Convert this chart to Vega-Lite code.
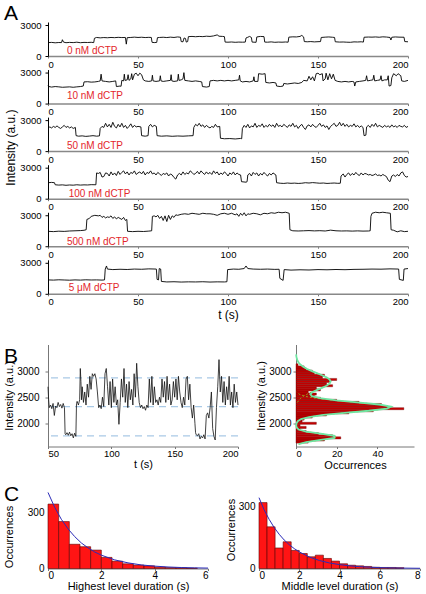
{
"$schema":"https://vega.github.io/schema/vega-lite/v6.json",
"background":"white",
"padding":{"left":3,"top":3,"right":0,"bottom":0},
"config":{"font":"Liberation Sans","view":{"stroke":null},
"axis":{"labelFont":"Liberation Sans","titleFont":"Liberation Sans","titleFontWeight":"normal","labelColor":"black","titleColor":"black","grid":false,"domainColor":"#777","tickColor":"#777","labelFontSize":10,"titleFontSize":11}},
"datasets":{
"a0":[{"t":0,"v":1300},{"t":2,"v":1320},{"t":4,"v":1280},{"t":6,"v":1310},{"t":7.5,"v":1300},{"t":8,"v":1580},{"t":8.6,"v":1350},{"t":10,"v":1290},{"t":12,"v":1320},{"t":14,"v":1300},{"t":16,"v":1340},{"t":18,"v":1290},{"t":20,"v":1320},{"t":22,"v":1310},{"t":24,"v":1330},{"t":25.4,"v":1300},{"t":25.8,"v":1720},{"t":27,"v":1800},{"t":29,"v":1760},{"t":31,"v":1790},{"t":33,"v":1770},{"t":35,"v":1800},{"t":37,"v":1780},{"t":39,"v":1810},{"t":41,"v":1790},{"t":43,"v":1800},{"t":43.5,"v":1150},{"t":44,"v":1780},{"t":46,"v":1800},{"t":48,"v":1830},{"t":50,"v":1800},{"t":52,"v":1820},{"t":54,"v":1790},{"t":56,"v":1810},{"t":57.4,"v":1800},{"t":57.8,"v":1330},{"t":59,"v":1300},{"t":60.4,"v":1320},{"t":60.8,"v":1780},{"t":62,"v":1800},{"t":64,"v":1820},{"t":66,"v":1790},{"t":68,"v":1830},{"t":70,"v":1800},{"t":72,"v":1850},{"t":73.6,"v":1820},{"t":74,"v":1400},{"t":75,"v":1380},{"t":75.6,"v":1750},{"t":76.4,"v":1700},{"t":76.8,"v":1350},{"t":77.6,"v":1400},{"t":78,"v":1880},{"t":80,"v":1900},{"t":82,"v":1870},{"t":84,"v":1900},{"t":86,"v":1880},{"t":88,"v":1920},{"t":90,"v":1900},{"t":92,"v":1950},{"t":94,"v":2050},{"t":95,"v":1920},{"t":97,"v":1900},{"t":98,"v":1880},{"t":98.4,"v":1350},{"t":100,"v":1340},{"t":102,"v":1360},{"t":104,"v":1330},{"t":106,"v":1350},{"t":108,"v":1340},{"t":109.6,"v":1350},{"t":110,"v":1750},{"t":111,"v":1820},{"t":112,"v":1900},{"t":113,"v":1800},{"t":113.4,"v":1350},{"t":115.6,"v":1330},{"t":116,"v":1850},{"t":118,"v":1900},{"t":120,"v":1880},{"t":120.4,"v":1350},{"t":122,"v":1340},{"t":124,"v":1370},{"t":126,"v":1330},{"t":128,"v":1350},{"t":130,"v":1340},{"t":132,"v":1360},{"t":133.4,"v":1340},{"t":133.8,"v":1830},{"t":136,"v":1860},{"t":138,"v":1850},{"t":140,"v":1900},{"t":141,"v":2000},{"t":142,"v":1850},{"t":142.4,"v":1400},{"t":144,"v":1380},{"t":146,"v":1400},{"t":148,"v":1370},{"t":150,"v":1390},{"t":151.4,"v":1400},{"t":151.8,"v":1800},{"t":154,"v":1830},{"t":156,"v":1850},{"t":158,"v":1820},{"t":159.2,"v":1800},{"t":159.6,"v":1380},{"t":162,"v":1350},{"t":164,"v":1360},{"t":166,"v":1340},{"t":168,"v":1330},{"t":170,"v":1370},{"t":172,"v":1360},{"t":174,"v":1380},{"t":175.2,"v":1350},{"t":175.6,"v":1820},{"t":178,"v":1840},{"t":180,"v":1830},{"t":182,"v":1850},{"t":184,"v":1820},{"t":186,"v":1860},{"t":188,"v":1840},{"t":190,"v":1800},{"t":190.5,"v":1550},{"t":191,"v":1820},{"t":193,"v":1850},{"t":195,"v":1830},{"t":197.8,"v":1820},{"t":198.2,"v":1400},{"t":200,"v":1380}],
"a10":[{"t":0,"v":1800},{"t":0.5,"v":1650},{"t":2,"v":1600},{"t":4,"v":1650},{"t":6,"v":1620},{"t":8,"v":1580},{"t":10,"v":1600},{"t":12,"v":1620},{"t":14,"v":1580},{"t":16,"v":1620},{"t":18,"v":1650},{"t":19.6,"v":1700},{"t":20,"v":2100},{"t":22,"v":2120},{"t":24,"v":2080},{"t":26,"v":2100},{"t":28,"v":2150},{"t":29,"v":2200},{"t":29.5,"v":2850},{"t":30,"v":2200},{"t":32,"v":2150},{"t":34,"v":2100},{"t":36,"v":2150},{"t":37.6,"v":2200},{"t":38,"v":1650},{"t":40,"v":1700},{"t":40.6,"v":1680},{"t":41,"v":2250},{"t":42,"v":2200},{"t":42.4,"v":2850},{"t":42.8,"v":2250},{"t":44,"v":2300},{"t":44.5,"v":2800},{"t":45,"v":2250},{"t":46,"v":2400},{"t":46.5,"v":2900},{"t":47,"v":2300},{"t":48,"v":2850},{"t":49,"v":2950},{"t":50,"v":2700},{"t":51,"v":2950},{"t":52,"v":2800},{"t":53,"v":2300},{"t":54,"v":2200},{"t":56,"v":2150},{"t":57.6,"v":2200},{"t":58,"v":2750},{"t":58.4,"v":2200},{"t":60,"v":2150},{"t":62,"v":2200},{"t":62.4,"v":2700},{"t":62.8,"v":2200},{"t":64,"v":2150},{"t":66,"v":2200},{"t":68,"v":2250},{"t":68.4,"v":2800},{"t":68.8,"v":2200},{"t":70,"v":2150},{"t":72,"v":2200},{"t":72.4,"v":2850},{"t":72.8,"v":2250},{"t":74,"v":2300},{"t":75,"v":2400},{"t":75.5,"v":3000},{"t":76,"v":2250},{"t":78,"v":2200},{"t":80,"v":2150},{"t":82,"v":2200},{"t":84,"v":2150},{"t":85.4,"v":2100},{"t":85.8,"v":1650},{"t":88,"v":1600},{"t":89.6,"v":1650},{"t":90,"v":2200},{"t":92,"v":2250},{"t":94,"v":2200},{"t":96,"v":2250},{"t":98,"v":2200},{"t":100,"v":2250},{"t":102,"v":2200},{"t":104,"v":2250},{"t":106,"v":2300},{"t":106.4,"v":2750},{"t":106.8,"v":2200},{"t":108,"v":2100},{"t":110,"v":2150},{"t":112,"v":2100},{"t":114,"v":2200},{"t":114.4,"v":2600},{"t":114.8,"v":2150},{"t":116.6,"v":2150},{"t":117,"v":2900},{"t":119,"v":2850},{"t":120.6,"v":2900},{"t":121,"v":2050},{"t":123,"v":2000},{"t":125,"v":2050},{"t":126.6,"v":2000},{"t":127,"v":1700},{"t":129,"v":1650},{"t":130.6,"v":1700},{"t":131,"v":1950},{"t":133,"v":1900},{"t":135,"v":1950},{"t":137,"v":2000},{"t":139,"v":1950},{"t":141,"v":2050},{"t":142,"v":2250},{"t":144,"v":2200},{"t":145,"v":2650},{"t":146,"v":2300},{"t":147,"v":2600},{"t":148,"v":2200},{"t":149,"v":2900},{"t":150,"v":2950},{"t":151,"v":2800},{"t":152.4,"v":2900},{"t":152.8,"v":2200},{"t":154,"v":2400},{"t":154.5,"v":2950},{"t":155.5,"v":2300},{"t":156.5,"v":2900},{"t":157.5,"v":2400},{"t":158.5,"v":2850},{"t":159.5,"v":2250},{"t":161,"v":2150},{"t":163,"v":2100},{"t":165,"v":2150},{"t":167,"v":2100},{"t":169,"v":2150},{"t":170,"v":2100},{"t":170.4,"v":1700},{"t":171,"v":2100},{"t":173,"v":2150},{"t":175,"v":2200},{"t":176.5,"v":2250},{"t":177,"v":2700},{"t":177.5,"v":2200},{"t":179,"v":2250},{"t":180.5,"v":2300},{"t":181,"v":2750},{"t":181.5,"v":2200},{"t":183,"v":2250},{"t":184.5,"v":2300},{"t":185,"v":2700},{"t":185.5,"v":2200},{"t":187,"v":2300},{"t":188.5,"v":2300},{"t":189,"v":2700},{"t":189.5,"v":1700},{"t":190.5,"v":1750},{"t":191,"v":2500},{"t":192,"v":2900},{"t":193.5,"v":2700},{"t":194.5,"v":2900},{"t":196,"v":2700},{"t":196.5,"v":2200},{"t":198,"v":2150},{"t":200,"v":2250}],
"a50":[{"t":0,"v":2200},{"t":1,"v":2350},{"t":2,"v":2250},{"t":3,"v":2400},{"t":4,"v":2300},{"t":5,"v":2450},{"t":6,"v":2300},{"t":7,"v":2200},{"t":8,"v":2350},{"t":9,"v":2500},{"t":10,"v":2300},{"t":11,"v":2400},{"t":12,"v":2250},{"t":13,"v":2350},{"t":14,"v":2200},{"t":15.2,"v":2300},{"t":15.6,"v":1500},{"t":17,"v":1450},{"t":19,"v":1480},{"t":21,"v":1430},{"t":23,"v":1460},{"t":25,"v":1500},{"t":27,"v":1450},{"t":28.6,"v":1480},{"t":29,"v":2200},{"t":30,"v":2400},{"t":31,"v":2300},{"t":32,"v":2700},{"t":33,"v":2350},{"t":34,"v":2600},{"t":35,"v":2300},{"t":36,"v":2800},{"t":37,"v":2400},{"t":38,"v":2250},{"t":39,"v":2600},{"t":40,"v":2350},{"t":41,"v":2700},{"t":42,"v":2300},{"t":43,"v":2500},{"t":44,"v":2200},{"t":45,"v":2400},{"t":46,"v":2650},{"t":47,"v":2300},{"t":48,"v":2500},{"t":49,"v":2350},{"t":50,"v":2400},{"t":51.6,"v":2350},{"t":52,"v":1500},{"t":54,"v":1450},{"t":55.6,"v":1500},{"t":56,"v":2400},{"t":57,"v":2600},{"t":58,"v":2350},{"t":59,"v":2500},{"t":60.2,"v":2400},{"t":60.6,"v":1500},{"t":63,"v":1450},{"t":66,"v":1480},{"t":69,"v":1440},{"t":72,"v":1470},{"t":75,"v":1450},{"t":78,"v":1480},{"t":80.6,"v":1500},{"t":81,"v":2300},{"t":82,"v":2600},{"t":83,"v":2450},{"t":84,"v":2700},{"t":85,"v":2400},{"t":86,"v":2550},{"t":87,"v":2300},{"t":88,"v":2500},{"t":89,"v":2350},{"t":90,"v":2250},{"t":91,"v":2400},{"t":92,"v":2300},{"t":93,"v":2600},{"t":94,"v":2350},{"t":95.4,"v":2400},{"t":95.8,"v":1250},{"t":98,"v":1200},{"t":101,"v":1220},{"t":104,"v":1180},{"t":107,"v":1230},{"t":107.6,"v":1200},{"t":108,"v":2200},{"t":109,"v":2500},{"t":110,"v":2300},{"t":111,"v":2600},{"t":112,"v":2250},{"t":113,"v":2450},{"t":114,"v":2350},{"t":115,"v":2700},{"t":116,"v":2300},{"t":117,"v":2500},{"t":118,"v":2400},{"t":119,"v":2650},{"t":120,"v":2300},{"t":121,"v":2500},{"t":122,"v":2350},{"t":123,"v":2600},{"t":124,"v":2400},{"t":125,"v":2550},{"t":126,"v":2300},{"t":127,"v":2700},{"t":128,"v":2400},{"t":129,"v":2500},{"t":130,"v":2350},{"t":131,"v":2600},{"t":132,"v":2450},{"t":133,"v":2300},{"t":134,"v":2550},{"t":135,"v":2400},{"t":136,"v":2700},{"t":137,"v":2350},{"t":138,"v":2500},{"t":139,"v":2200},{"t":140,"v":2450},{"t":141,"v":2600},{"t":142,"v":2300},{"t":143,"v":2100},{"t":144,"v":2450},{"t":145,"v":2550},{"t":146,"v":2350},{"t":147,"v":2600},{"t":148,"v":2400},{"t":149,"v":2300},{"t":150,"v":2500},{"t":151,"v":2700},{"t":152,"v":2400},{"t":153,"v":2550},{"t":154,"v":2300},{"t":155,"v":2450},{"t":156,"v":2100},{"t":157,"v":2400},{"t":158,"v":2550},{"t":159,"v":2700},{"t":160,"v":2400},{"t":161,"v":2500},{"t":162,"v":2800},{"t":163,"v":2450},{"t":164,"v":2700},{"t":165,"v":2400},{"t":166,"v":2600},{"t":167,"v":2350},{"t":168,"v":2500},{"t":169,"v":2400},{"t":170,"v":2650},{"t":171,"v":2350},{"t":172,"v":2500},{"t":173,"v":2300},{"t":174,"v":2450},{"t":175,"v":2300},{"t":175.6,"v":1500},{"t":176.6,"v":1550},{"t":177,"v":2350},{"t":178,"v":2500},{"t":179,"v":2300},{"t":180,"v":2600},{"t":181,"v":2400},{"t":182,"v":2700},{"t":183,"v":2350},{"t":184,"v":2500},{"t":185,"v":2400},{"t":186,"v":2300},{"t":187,"v":2500},{"t":188,"v":2350},{"t":189,"v":2450},{"t":190,"v":2300},{"t":191,"v":2550},{"t":192,"v":2350},{"t":193,"v":2450},{"t":194,"v":2300},{"t":195,"v":2500},{"t":196,"v":2400},{"t":197,"v":2350},{"t":198,"v":2500},{"t":199,"v":2300},{"t":200,"v":2400}],
"a100":[{"t":0,"v":1550},{"t":2,"v":1580},{"t":3.6,"v":1550},{"t":4,"v":1350},{"t":6,"v":1320},{"t":8,"v":1340},{"t":10,"v":1300},{"t":12,"v":1330},{"t":14,"v":1310},{"t":16,"v":1350},{"t":18,"v":1320},{"t":20,"v":1340},{"t":22,"v":1330},{"t":24,"v":1360},{"t":26.6,"v":1350},{"t":27,"v":2500},{"t":28,"v":2450},{"t":29,"v":2550},{"t":30,"v":2100},{"t":31,"v":2150},{"t":32,"v":2500},{"t":33,"v":2450},{"t":34,"v":2200},{"t":35,"v":2600},{"t":36,"v":2300},{"t":37,"v":2500},{"t":38,"v":2250},{"t":39,"v":2650},{"t":40,"v":2350},{"t":41,"v":2550},{"t":42,"v":2700},{"t":43,"v":2400},{"t":44,"v":2600},{"t":45,"v":2300},{"t":46,"v":2550},{"t":47,"v":2450},{"t":48,"v":2700},{"t":49,"v":2350},{"t":50,"v":2500},{"t":51,"v":2600},{"t":52,"v":2400},{"t":53,"v":2650},{"t":54,"v":2300},{"t":55,"v":2550},{"t":56,"v":2450},{"t":57,"v":2700},{"t":58,"v":2400},{"t":59,"v":2500},{"t":60,"v":2300},{"t":61,"v":2550},{"t":62,"v":2400},{"t":63,"v":2250},{"t":64,"v":2450},{"t":65,"v":2350},{"t":66,"v":2500},{"t":67,"v":2200},{"t":68,"v":2400},{"t":69,"v":2300},{"t":70,"v":2050},{"t":71,"v":1900},{"t":72,"v":2300},{"t":73,"v":2450},{"t":74,"v":2300},{"t":75,"v":2600},{"t":76,"v":2350},{"t":77,"v":2500},{"t":78,"v":2400},{"t":79,"v":2700},{"t":80,"v":2550},{"t":81,"v":2350},{"t":82,"v":2450},{"t":83,"v":2650},{"t":84,"v":2400},{"t":85,"v":2700},{"t":86,"v":2500},{"t":87,"v":2350},{"t":88,"v":2600},{"t":89,"v":2400},{"t":90,"v":2550},{"t":91,"v":2350},{"t":92,"v":2700},{"t":93,"v":2450},{"t":94,"v":2600},{"t":95,"v":2300},{"t":96,"v":2500},{"t":97,"v":2350},{"t":98,"v":2600},{"t":99,"v":2450},{"t":100,"v":2200},{"t":101,"v":2500},{"t":102,"v":2350},{"t":103,"v":2600},{"t":104,"v":2300},{"t":105,"v":2500},{"t":106,"v":2350},{"t":107,"v":2300},{"t":107.5,"v":1650},{"t":110,"v":1600},{"t":110.6,"v":1650},{"t":111,"v":2300},{"t":112,"v":2450},{"t":113,"v":2200},{"t":114,"v":2550},{"t":115,"v":2350},{"t":116,"v":2500},{"t":117,"v":2200},{"t":118,"v":2450},{"t":119,"v":2300},{"t":120,"v":2550},{"t":121,"v":2350},{"t":122,"v":2200},{"t":123,"v":2450},{"t":124,"v":2300},{"t":125,"v":2500},{"t":126.6,"v":2300},{"t":127,"v":1550},{"t":129,"v":1500},{"t":131,"v":1480},{"t":133,"v":1520},{"t":135,"v":1490},{"t":137,"v":1510},{"t":139,"v":1480},{"t":141,"v":1500},{"t":143,"v":1550},{"t":145,"v":1520},{"t":147,"v":1560},{"t":149,"v":1530},{"t":151,"v":1500},{"t":153,"v":1520},{"t":155,"v":1480},{"t":157,"v":1500},{"t":159,"v":1520},{"t":161,"v":1490},{"t":162.4,"v":1500},{"t":162.8,"v":2200},{"t":164,"v":2400},{"t":165,"v":2100},{"t":166,"v":2350},{"t":167,"v":2500},{"t":168,"v":2250},{"t":169,"v":2450},{"t":170,"v":2300},{"t":171,"v":2550},{"t":172,"v":2350},{"t":173,"v":2250},{"t":174,"v":2500},{"t":175,"v":2300},{"t":176,"v":2450},{"t":177,"v":2400},{"t":178,"v":2300},{"t":179,"v":2350},{"t":180,"v":2250},{"t":181,"v":2300},{"t":182,"v":2400},{"t":183,"v":2250},{"t":184,"v":2300},{"t":185,"v":2200},{"t":186,"v":2350},{"t":187,"v":2250},{"t":188,"v":2150},{"t":189,"v":1800},{"t":190,"v":1650},{"t":191,"v":2200},{"t":192,"v":2300},{"t":193,"v":2150},{"t":194,"v":2350},{"t":195,"v":2200},{"t":196,"v":2500},{"t":197,"v":2600},{"t":198,"v":2250},{"t":199,"v":2100},{"t":200,"v":2150}],
"a500":[{"t":0,"v":1450},{"t":3,"v":1420},{"t":6,"v":1460},{"t":9,"v":1440},{"t":12,"v":1480},{"t":15,"v":1500},{"t":18,"v":1520},{"t":20,"v":1550},{"t":21.2,"v":1600},{"t":21.6,"v":2600},{"t":23,"v":2700},{"t":24,"v":2900},{"t":26,"v":3000},{"t":28,"v":2950},{"t":29,"v":3000},{"t":30,"v":2800},{"t":31,"v":2900},{"t":32,"v":2750},{"t":33,"v":2850},{"t":34,"v":2800},{"t":35,"v":2950},{"t":36,"v":2700},{"t":37,"v":2850},{"t":38,"v":2650},{"t":39,"v":2800},{"t":40,"v":2700},{"t":41,"v":2600},{"t":42,"v":2800},{"t":43,"v":2500},{"t":43.8,"v":2600},{"t":44.2,"v":1450},{"t":47,"v":1420},{"t":50,"v":1450},{"t":53,"v":1430},{"t":56,"v":1470},{"t":57.6,"v":1500},{"t":58,"v":2900},{"t":59,"v":2950},{"t":60,"v":2850},{"t":61,"v":3000},{"t":62,"v":2700},{"t":63,"v":2900},{"t":64,"v":2500},{"t":65,"v":2950},{"t":66,"v":2400},{"t":67,"v":3000},{"t":68,"v":2600},{"t":69,"v":2950},{"t":70,"v":2800},{"t":71,"v":3050},{"t":72,"v":3000},{"t":74,"v":3100},{"t":76,"v":3150},{"t":78,"v":3100},{"t":80,"v":3200},{"t":82,"v":3150},{"t":84,"v":3100},{"t":86,"v":3200},{"t":88,"v":3150},{"t":90,"v":3150},{"t":92,"v":3100},{"t":94,"v":3000},{"t":96,"v":3150},{"t":98,"v":3200},{"t":100,"v":3100},{"t":102,"v":3200},{"t":104,"v":3050},{"t":105,"v":3150},{"t":106,"v":2900},{"t":107,"v":3200},{"t":108,"v":3000},{"t":109,"v":3250},{"t":110,"v":2950},{"t":111,"v":3150},{"t":112,"v":3100},{"t":114,"v":3200},{"t":116,"v":3150},{"t":118,"v":3050},{"t":120,"v":3200},{"t":122,"v":3150},{"t":124,"v":3250},{"t":126,"v":3200},{"t":128,"v":3300},{"t":130,"v":3250},{"t":132,"v":3300},{"t":134,"v":3200},{"t":134.4,"v":1600},{"t":136,"v":1500},{"t":139,"v":1480},{"t":142,"v":1500},{"t":145,"v":1520},{"t":148,"v":1490},{"t":151,"v":1510},{"t":154,"v":1480},{"t":157,"v":1560},{"t":160,"v":1500},{"t":163,"v":1480},{"t":166,"v":1490},{"t":169,"v":1470},{"t":172,"v":1490},{"t":175,"v":1470},{"t":178,"v":1480},{"t":179,"v":1500},{"t":179.4,"v":2900},{"t":180,"v":3200},{"t":182,"v":3300},{"t":184,"v":3250},{"t":186,"v":3300},{"t":188,"v":3250},{"t":190.2,"v":3200},{"t":190.6,"v":1600},{"t":192,"v":1550},{"t":194,"v":1400},{"t":196,"v":1500},{"t":198,"v":1420},{"t":200,"v":1450}],
"a5u":[{"t":0,"v":1350},{"t":3,"v":1330},{"t":6,"v":1360},{"t":9,"v":1340},{"t":12,"v":1320},{"t":15,"v":1350},{"t":18,"v":1330},{"t":21,"v":1360},{"t":24,"v":1340},{"t":27,"v":1350},{"t":30,"v":1330},{"t":31.4,"v":1350},{"t":31.8,"v":2400},{"t":32.5,"v":2700},{"t":33,"v":2400},{"t":36,"v":2350},{"t":40,"v":2380},{"t":44,"v":2360},{"t":48,"v":2400},{"t":52,"v":2380},{"t":56,"v":2420},{"t":60.2,"v":2400},{"t":60.6,"v":1400},{"t":61.4,"v":1350},{"t":61.8,"v":2450},{"t":62.6,"v":2400},{"t":63,"v":1200},{"t":66,"v":1150},{"t":70,"v":1170},{"t":74,"v":1140},{"t":78,"v":1160},{"t":82,"v":1150},{"t":86,"v":1170},{"t":90,"v":1140},{"t":94,"v":1160},{"t":98,"v":1150},{"t":99.4,"v":1170},{"t":99.8,"v":2350},{"t":103,"v":2400},{"t":106,"v":2380},{"t":109,"v":2450},{"t":110,"v":2700},{"t":111,"v":2450},{"t":114,"v":2400},{"t":118,"v":2380},{"t":122,"v":2400},{"t":126,"v":2370},{"t":128.4,"v":2380},{"t":128.8,"v":1500},{"t":130.6,"v":1300},{"t":131.2,"v":2350},{"t":135,"v":2300},{"t":140,"v":2330},{"t":145,"v":2310},{"t":150,"v":2350},{"t":155,"v":2330},{"t":160,"v":2360},{"t":165,"v":2340},{"t":170,"v":2370},{"t":175,"v":2380},{"t":180,"v":2400},{"t":185,"v":2390},{"t":190,"v":2420},{"t":194.8,"v":2400},{"t":195.2,"v":1400},{"t":197.4,"v":1300},{"t":197.8,"v":2400},{"t":200,"v":2450}],
"b":[{"t":50,"v":2700},{"t":50.5,"v":2450},{"t":51,"v":2300},{"t":52,"v":2350},{"t":53,"v":2280},{"t":54,"v":2380},{"t":55,"v":2150},{"t":56,"v":2330},{"t":57,"v":2300},{"t":58,"v":2400},{"t":59,"v":2320},{"t":60,"v":2360},{"t":61,"v":2290},{"t":62,"v":2380},{"t":63,"v":2300},{"t":63.5,"v":1800},{"t":64,"v":1780},{"t":65,"v":1820},{"t":66,"v":1770},{"t":67,"v":1830},{"t":68,"v":1760},{"t":69,"v":1800},{"t":70,"v":1720},{"t":71,"v":1810},{"t":72,"v":1750},{"t":72.5,"v":2380},{"t":73,"v":2420},{"t":74,"v":2350},{"t":75,"v":2450},{"t":75.5,"v":3050},{"t":76,"v":2800},{"t":76.5,"v":2450},{"t":77,"v":2700},{"t":78,"v":2400},{"t":79,"v":2600},{"t":80,"v":2350},{"t":81,"v":2750},{"t":82,"v":2500},{"t":83,"v":2900},{"t":84,"v":2650},{"t":85,"v":2950},{"t":86,"v":2900},{"t":87,"v":2950},{"t":88,"v":2850},{"t":89,"v":2600},{"t":90,"v":2300},{"t":91,"v":2350},{"t":92,"v":2280},{"t":93,"v":2500},{"t":94,"v":2320},{"t":95,"v":2950},{"t":96,"v":3050},{"t":97,"v":2700},{"t":98,"v":2350},{"t":99,"v":2800},{"t":100,"v":2300},{"t":101,"v":2850},{"t":102,"v":2400},{"t":103,"v":2700},{"t":104,"v":2350},{"t":105,"v":2450},{"t":106,"v":1980},{"t":107,"v":2400},{"t":108,"v":2850},{"t":109,"v":2500},{"t":110,"v":3050},{"t":111,"v":2400},{"t":112,"v":2750},{"t":113,"v":2300},{"t":114,"v":2800},{"t":115,"v":2450},{"t":116,"v":2650},{"t":117,"v":2350},{"t":118,"v":2950},{"t":119,"v":2500},{"t":120,"v":3150},{"t":121,"v":2700},{"t":122,"v":2400},{"t":123,"v":2300},{"t":124,"v":2350},{"t":125,"v":2280},{"t":126,"v":2320},{"t":127,"v":2250},{"t":128,"v":2350},{"t":129,"v":2300},{"t":130,"v":2850},{"t":131,"v":2400},{"t":132,"v":2900},{"t":133,"v":2350},{"t":134,"v":2700},{"t":135,"v":2400},{"t":136,"v":2450},{"t":137,"v":2350},{"t":138,"v":2500},{"t":139,"v":2400},{"t":140,"v":2850},{"t":141,"v":2500},{"t":142,"v":2800},{"t":143,"v":2400},{"t":144,"v":2900},{"t":145,"v":2450},{"t":146,"v":2750},{"t":147,"v":2350},{"t":148,"v":2450},{"t":149,"v":2800},{"t":150,"v":2500},{"t":151,"v":2850},{"t":152,"v":2450},{"t":153,"v":2900},{"t":154,"v":2600},{"t":155,"v":2400},{"t":156,"v":2300},{"t":157,"v":2500},{"t":158,"v":2350},{"t":159,"v":2850},{"t":160,"v":2900},{"t":161,"v":2450},{"t":162,"v":2750},{"t":163,"v":2300},{"t":164,"v":2100},{"t":165,"v":2350},{"t":166,"v":2000},{"t":166.5,"v":1820},{"t":167,"v":1780},{"t":168,"v":1760},{"t":169,"v":1800},{"t":170,"v":1700},{"t":171,"v":1750},{"t":172,"v":1720},{"t":173,"v":1780},{"t":174,"v":1700},{"t":175,"v":2150},{"t":176,"v":2200},{"t":177,"v":2100},{"t":178,"v":2300},{"t":179,"v":2600},{"t":180,"v":1900},{"t":181,"v":1750},{"t":182,"v":1680},{"t":183,"v":2300},{"t":184,"v":2700},{"t":185,"v":3220},{"t":186,"v":2600},{"t":187,"v":2900},{"t":188,"v":2400},{"t":189,"v":2800},{"t":190,"v":2350},{"t":191,"v":2700},{"t":192,"v":2450},{"t":193,"v":2900},{"t":194,"v":2350},{"t":195,"v":2600},{"t":196,"v":2300},{"t":197,"v":2750},{"t":198,"v":2400},{"t":199,"v":2600},{"t":200,"v":2350}],
"levels":[{"level":2870},{"level":2320},{"level":1760}],
"hist":[{"lo":1620,"hi":1660,"n":6},{"lo":1660,"hi":1700,"n":14},{"lo":1700,"hi":1740,"n":22},{"lo":1740,"hi":1780,"n":18},{"lo":1780,"hi":1820,"n":11},{"lo":1820,"hi":1860,"n":5},{"lo":1860,"hi":1900,"n":2},{"lo":1900,"hi":1940,"n":5},{"lo":1940,"hi":1980,"n":2},{"lo":1980,"hi":2020,"n":10},{"lo":2020,"hi":2060,"n":3},{"lo":2060,"hi":2100,"n":4},{"lo":2100,"hi":2140,"n":8},{"lo":2140,"hi":2180,"n":15},{"lo":2180,"hi":2220,"n":26},{"lo":2220,"hi":2260,"n":38},{"lo":2260,"hi":2300,"n":53},{"lo":2300,"hi":2340,"n":45},{"lo":2340,"hi":2380,"n":42},{"lo":2380,"hi":2420,"n":31},{"lo":2420,"hi":2460,"n":20},{"lo":2460,"hi":2500,"n":12},{"lo":2500,"hi":2540,"n":9},{"lo":2540,"hi":2580,"n":10},{"lo":2580,"hi":2620,"n":6},{"lo":2620,"hi":2660,"n":12},{"lo":2660,"hi":2700,"n":10},{"lo":2700,"hi":2740,"n":18},{"lo":2740,"hi":2780,"n":15},{"lo":2780,"hi":2820,"n":17},{"lo":2820,"hi":2860,"n":20},{"lo":2860,"hi":2900,"n":13},{"lo":2900,"hi":2940,"n":14},{"lo":2940,"hi":2980,"n":9},{"lo":2980,"hi":3020,"n":8},{"lo":3020,"hi":3060,"n":5},{"lo":3060,"hi":3100,"n":4},{"lo":3100,"hi":3140,"n":1}],
"fit":[{"v":1600,"n":1.3},{"v":1640,"n":5},{"v":1680,"n":12.1},{"v":1720,"n":18.9},{"v":1760,"n":18.9},{"v":1800,"n":12.1},{"v":1840,"n":5},{"v":1880,"n":1.3},{"v":1920,"n":0.3},{"v":1960,"n":0.1},{"v":2000,"n":0.25},{"v":2040,"n":0.85},{"v":2080,"n":2.5},{"v":2120,"n":6.4},{"v":2160,"n":13.5},{"v":2200,"n":24},{"v":2240,"n":35.8},{"v":2280,"n":44.7},{"v":2320,"n":46.7},{"v":2360,"n":40.9},{"v":2400,"n":30.1},{"v":2440,"n":19.8},{"v":2480,"n":11.8},{"v":2520,"n":7.8},{"v":2560,"n":7},{"v":2600,"n":8.2},{"v":2640,"n":10.4},{"v":2680,"n":12.8},{"v":2720,"n":15},{"v":2760,"n":16.5},{"v":2800,"n":17},{"v":2840,"n":16.5},{"v":2880,"n":15},{"v":2920,"n":12.8},{"v":2960,"n":10.3},{"v":3000,"n":7.8},{"v":3040,"n":5.5},{"v":3080,"n":3.7},{"v":3120,"n":2.3},{"v":3160,"n":1.35},{"v":3200,"n":0.75},{"v":3240,"n":0.4},{"v":3280,"n":0.2},{"v":3320,"n":0.05}],
"comp":[{"g":"l","v":1600,"n":1.3},{"g":"l","v":1640,"n":5},{"g":"l","v":1680,"n":12.1},{"g":"l","v":1720,"n":18.9},{"g":"l","v":1740,"n":20},{"g":"l","v":1760,"n":18.9},{"g":"l","v":1800,"n":12.1},{"g":"l","v":1840,"n":5},{"g":"l","v":1880,"n":1.3},{"g":"l","v":1920,"n":0.2},{"g":"m","v":2040,"n":0.8},{"g":"m","v":2080,"n":2.5},{"g":"m","v":2120,"n":6.4},{"g":"m","v":2160,"n":13.5},{"g":"m","v":2200,"n":24},{"g":"m","v":2240,"n":35.8},{"g":"m","v":2280,"n":44.7},{"g":"m","v":2310,"n":47},{"g":"m","v":2360,"n":40.9},{"g":"m","v":2400,"n":30},{"g":"m","v":2440,"n":18.4},{"g":"m","v":2480,"n":9.5},{"g":"m","v":2520,"n":4.1},{"g":"m","v":2560,"n":1.5},{"g":"m","v":2600,"n":0.4},{"g":"u","v":2400,"n":0.7},{"g":"u","v":2440,"n":1.35},{"g":"u","v":2480,"n":2.3},{"g":"u","v":2520,"n":3.7},{"g":"u","v":2560,"n":5.5},{"g":"u","v":2600,"n":7.8},{"g":"u","v":2640,"n":10.3},{"g":"u","v":2680,"n":12.8},{"g":"u","v":2720,"n":15},{"g":"u","v":2760,"n":16.5},{"g":"u","v":2800,"n":17},{"g":"u","v":2840,"n":16.5},{"g":"u","v":2880,"n":15},{"g":"u","v":2920,"n":12.8},{"g":"u","v":2960,"n":10.3},{"g":"u","v":3000,"n":7.8},{"g":"u","v":3040,"n":5.5},{"g":"u","v":3080,"n":3.7},{"g":"u","v":3120,"n":2.3},{"g":"u","v":3160,"n":1.35},{"g":"u","v":3200,"n":0.75},{"g":"u","v":3240,"n":0.4}],
"chl":[{"lo":0,"hi":0.4,"n":343},{"lo":0.4,"hi":0.8,"n":250},{"lo":0.8,"hi":1.2,"n":129},{"lo":1.2,"hi":1.6,"n":116},{"lo":1.6,"hi":2.0,"n":98},{"lo":2.0,"hi":2.4,"n":59},{"lo":2.4,"hi":2.8,"n":39},{"lo":2.8,"hi":3.2,"n":25},{"lo":3.2,"hi":3.6,"n":18},{"lo":3.6,"hi":4.0,"n":14},{"lo":4.0,"hi":4.4,"n":7},{"lo":4.4,"hi":4.8,"n":5},{"lo":4.8,"hi":5.2,"n":4},{"lo":5.2,"hi":5.6,"n":2}],
"chm":[{"lo":0,"hi":0.4,"n":321},{"lo":0.4,"hi":0.8,"n":203},{"lo":0.8,"hi":1.2,"n":100},{"lo":1.2,"hi":1.6,"n":130},{"lo":1.6,"hi":2.0,"n":88},{"lo":2.0,"hi":2.4,"n":73},{"lo":2.4,"hi":2.8,"n":57},{"lo":2.8,"hi":3.2,"n":65},{"lo":3.2,"hi":3.6,"n":49},{"lo":3.6,"hi":4.0,"n":36},{"lo":4.0,"hi":4.4,"n":23},{"lo":4.4,"hi":4.8,"n":16},{"lo":4.8,"hi":5.2,"n":13},{"lo":5.2,"hi":5.6,"n":10},{"lo":5.6,"hi":6.0,"n":6},{"lo":6.0,"hi":6.4,"n":5},{"lo":6.4,"hi":6.8,"n":5},{"lo":6.8,"hi":7.2,"n":4}],
"fhl":[{"x":0,"y":405},{"x":0.25,"y":326},{"x":0.5,"y":262},{"x":0.75,"y":211},{"x":1,"y":170},{"x":1.25,"y":136},{"x":1.5,"y":110},{"x":1.75,"y":88},{"x":2,"y":71},{"x":2.5,"y":46},{"x":3,"y":30},{"x":3.5,"y":19},{"x":4,"y":12.5},{"x":4.5,"y":8},{"x":5,"y":5.2},{"x":5.5,"y":3.4},{"x":6,"y":2.2}],
"fhm":[{"x":0,"y":345},{"x":0.25,"y":287},{"x":0.5,"y":240},{"x":0.75,"y":200},{"x":1,"y":167},{"x":1.25,"y":139},{"x":1.5,"y":116},{"x":1.75,"y":97},{"x":2,"y":81},{"x":2.5,"y":56},{"x":3,"y":39},{"x":3.5,"y":27},{"x":4,"y":19},{"x":4.5,"y":13},{"x":5,"y":9},{"x":5.5,"y":6.3},{"x":6,"y":4.4},{"x":7,"y":2.1},{"x":8,"y":1}]
},
"vconcat":[
{"vconcat":[
 {"vconcat":[
  {"width":360,"height":34,
   "layer":[
    {"data":{"name":"a0"},"mark":{"type":"line","color":"black","strokeWidth":0.9},
     "encoding":{"x":{"field":"t","type":"quantitative","scale":{"domain":[0,200],"nice":false},"axis":{"values":[0,50,100,150,200],"title":null,"labelFontSize":9.5,"tickSize":2,"labelPadding":1,"domainColor":"#888","domainWidth":1.5}},
      "y":{"field":"v","type":"quantitative","scale":{"domain":[0,3300],"nice":false},"axis":{"values":[0,1000,2000,3000],"format":"d","title":null,"labelFontSize":9.5,"tickSize":3,"labelPadding":4,"domainColor":"black","tickColor":"black"}}}},
    {"data":{"values":[{"label":"0 nM dCTP"}]},"mark":{"type":"text","color":"#e3262b","fontSize":10,"align":"left","baseline":"middle"},
     "encoding":{"x":{"datum":10.5,"type":"quantitative"},"y":{"datum":470,"type":"quantitative"},"text":{"field":"label"}}},
    {"data":{"values":[{"label":"A"}]},"mark":{"type":"text","color":"black","fontSize":21,"align":"left","baseline":"alphabetic"},
     "encoding":{"x":{"datum":-24.4,"type":"quantitative"},"y":{"datum":3475,"type":"quantitative"},"text":{"field":"label"}}}
   ]},
  {"width":360,"height":34,
   "layer":[
    {"data":{"name":"a10"},"mark":{"type":"line","color":"black","strokeWidth":0.9},
     "encoding":{"x":{"field":"t","type":"quantitative","scale":{"domain":[0,200],"nice":false},"axis":{"values":[0,50,100,150,200],"title":null,"labelFontSize":9.5,"tickSize":2,"labelPadding":1,"domainColor":"#888","domainWidth":1.5}},
      "y":{"field":"v","type":"quantitative","scale":{"domain":[0,3300],"nice":false},"axis":{"values":[0,1000,2000,3000],"format":"d","title":null,"labelFontSize":9.5,"tickSize":3,"labelPadding":4,"domainColor":"black","tickColor":"black"}}}},
    {"data":{"values":[{"label":"10 nM dCTP"}]},"mark":{"type":"text","color":"#e3262b","fontSize":10,"align":"left","baseline":"middle"},
     "encoding":{"x":{"datum":10.5,"type":"quantitative"},"y":{"datum":780,"type":"quantitative"},"text":{"field":"label"}}}
   ]},
  {"width":360,"height":34,
   "layer":[
    {"data":{"name":"a50"},"mark":{"type":"line","color":"black","strokeWidth":0.9},
     "encoding":{"x":{"field":"t","type":"quantitative","scale":{"domain":[0,200],"nice":false},"axis":{"values":[0,50,100,150,200],"title":null,"labelFontSize":9.5,"tickSize":2,"labelPadding":1,"domainColor":"#888","domainWidth":1.5}},
      "y":{"field":"v","type":"quantitative","scale":{"domain":[0,3300],"nice":false},"axis":{"values":[0,1000,2000,3000],"format":"d","title":"Intensity (a.u.)","titleFontSize":12,"titleX":-38,"titleY":30,"titleBaseline":"middle","titleAngle":-90,"labelFontSize":9.5,"tickSize":3,"labelPadding":4,"domainColor":"black","tickColor":"black"}}}},
    {"data":{"values":[{"label":"50 nM dCTP"}]},"mark":{"type":"text","color":"#e3262b","fontSize":10,"align":"left","baseline":"middle"},
     "encoding":{"x":{"datum":10.5,"type":"quantitative"},"y":{"datum":480,"type":"quantitative"},"text":{"field":"label"}}}
   ]},
  {"width":360,"height":34,
   "layer":[
    {"data":{"name":"a100"},"mark":{"type":"line","color":"black","strokeWidth":0.9},
     "encoding":{"x":{"field":"t","type":"quantitative","scale":{"domain":[0,200],"nice":false},"axis":{"values":[0,50,100,150,200],"title":null,"labelFontSize":9.5,"tickSize":2,"labelPadding":1,"domainColor":"#888","domainWidth":1.5}},
      "y":{"field":"v","type":"quantitative","scale":{"domain":[0,3300],"nice":false},"axis":{"values":[0,1000,2000,3000],"format":"d","title":null,"labelFontSize":9.5,"tickSize":3,"labelPadding":4,"domainColor":"black","tickColor":"black"}}}},
    {"data":{"values":[{"label":"100 nM dCTP"}]},"mark":{"type":"text","color":"#e3262b","fontSize":10,"align":"left","baseline":"middle"},
     "encoding":{"x":{"datum":11.5,"type":"quantitative"},"y":{"datum":440,"type":"quantitative"},"text":{"field":"label"}}}
   ]},
  {"width":360,"height":34,
   "layer":[
    {"data":{"name":"a500"},"mark":{"type":"line","color":"black","strokeWidth":0.9},
     "encoding":{"x":{"field":"t","type":"quantitative","scale":{"domain":[0,200],"nice":false},"axis":{"values":[0,50,100,150,200],"title":null,"labelFontSize":9.5,"tickSize":2,"labelPadding":1,"domainColor":"#888","domainWidth":1.5}},
      "y":{"field":"v","type":"quantitative","scale":{"domain":[0,3300],"nice":false},"axis":{"values":[0,1000,2000,3000],"format":"d","title":null,"labelFontSize":9.5,"tickSize":3,"labelPadding":4,"domainColor":"black","tickColor":"black"}}}},
    {"data":{"values":[{"label":"500 nM dCTP"}]},"mark":{"type":"text","color":"#e3262b","fontSize":10,"align":"left","baseline":"middle"},
     "encoding":{"x":{"datum":10.5,"type":"quantitative"},"y":{"datum":370,"type":"quantitative"},"text":{"field":"label"}}}
   ]},
  {"width":360,"height":34,
   "layer":[
    {"data":{"name":"a5u"},"mark":{"type":"line","color":"black","strokeWidth":0.9},
     "encoding":{"x":{"field":"t","type":"quantitative","scale":{"domain":[0,200],"nice":false},"axis":{"values":[0,50,100,150,200],"title":"t (s)","titleFontSize":12,"titlePadding":3,"labelFontSize":9.5,"tickSize":2,"labelPadding":1,"domainColor":"#888","domainWidth":1.5}},
      "y":{"field":"v","type":"quantitative","scale":{"domain":[0,3300],"nice":false},"axis":{"values":[0,1000,2000,3000],"format":"d","title":null,"labelFontSize":9.5,"tickSize":3,"labelPadding":4,"domainColor":"black","tickColor":"black"}}}},
    {"data":{"values":[{"label":"5 μM dCTP"}]},"mark":{"type":"text","color":"#e3262b","fontSize":10,"align":"left","baseline":"middle"},
     "encoding":{"x":{"datum":11.5,"type":"quantitative"},"y":{"datum":570,"type":"quantitative"},"text":{"field":"label"}}}
   ]}
 ],"spacing":13.56,"bounds":"flush"},
 {"hconcat":[
  {"width":190,"height":102,
   "layer":[
    {"data":{"name":"levels"},"mark":{"type":"rule","color":"#a9c9e6","strokeDash":[7,5],"strokeWidth":1.2},
     "encoding":{"y":{"field":"level","type":"quantitative","scale":{"domain":[1555,3510],"nice":false}}}},
    {"data":{"name":"b"},"mark":{"type":"line","color":"#111","strokeWidth":0.8},
     "encoding":{"x":{"field":"t","type":"quantitative","scale":{"domain":[50,200],"nice":false},"axis":{"values":[50,100,150,200],"title":"t (s)","titleFontSize":11,"titlePadding":0,"tickSize":2,"labelPadding":0,"labelFontSize":9.5}},
      "y":{"field":"v","type":"quantitative","scale":{"domain":[1555,3510],"nice":false},"axis":{"values":[2000,2500,3000],"format":"d","title":"Intensity (a.u.)","titleFontSize":11,"titleX":-38.5,"titleY":51,"titleBaseline":"middle","titleAngle":-90,"tickSize":3,"labelPadding":6}}}},
    {"data":{"values":[{"label":"B"}]},"mark":{"type":"text","color":"black","fontSize":21,"align":"left","baseline":"alphabetic"},
     "encoding":{"x":{"datum":15.3,"type":"quantitative"},"y":{"datum":3146,"type":"quantitative"},"text":{"field":"label"}}}
   ]},
  {"width":118,"height":102,
   "layer":[
    {"data":{"name":"hist"},"mark":{"type":"rect","color":"#c80000","stroke":"#6a0000","strokeWidth":0.4},
     "encoding":{"y":{"field":"lo","type":"quantitative","scale":{"domain":[1555,3510],"nice":false},"axis":{"values":[2000,2500,3000],"format":"d","title":"Intensity (a.u.)","titleFontSize":11,"titleX":-35,"titleY":51,"titleBaseline":"middle","titleAngle":-90,"tickSize":3,"labelPadding":2}},
      "y2":{"field":"hi"},
      "x":{"field":"n","type":"quantitative","scale":{"domain":[0,58],"nice":false},"axis":{"values":[0,5,10,15,20,25,30,35,40,45,50,55],"labelExpr":"datum.value % 10 == 0 ? datum.label : ''","title":"Occurrences","titleFontSize":11,"titlePadding":1,"tickSize":2,"labelPadding":0,"labelFontSize":9.5}},
      "x2":{"datum":0}}},
    {"data":{"name":"comp"},"mark":{"type":"line","color":"#9c9a1c","strokeDash":[2,2],"strokeWidth":1},
     "encoding":{"x":{"field":"n","type":"quantitative"},"y":{"field":"v","type":"quantitative"},"detail":{"field":"g"},"order":{"field":"v","type":"quantitative"}}},
    {"data":{"name":"fit"},"mark":{"type":"line","color":"#6fe6a2","strokeWidth":1.8},
     "encoding":{"x":{"field":"n","type":"quantitative"},"y":{"field":"v","type":"quantitative"},"order":{"field":"v","type":"quantitative"}}}
   ]}
 ],"spacing":58,"bounds":"flush"}
],"spacing":23.5},
{"hconcat":[
 {"width":160,"height":77,
  "layer":[
   {"data":{"name":"chl"},"mark":{"type":"rect","color":"#ff1414","stroke":"#5a0000","strokeWidth":0.6},
    "encoding":{"x":{"field":"lo","type":"quantitative","scale":{"domain":[0,6],"nice":false},"axis":{"values":[0,2,4,6],"title":"Highest level duration (s)","titleFontSize":11,"titlePadding":0,"tickSize":2,"labelPadding":0}},
     "x2":{"field":"hi"},
     "y":{"field":"n","type":"quantitative","scale":{"domain":[0,410],"nice":false},"axis":{"values":[0,100,200,300],"title":"Occurrences","titleFontSize":11,"titleX":-38.5,"titleY":45,"titleBaseline":"middle","titleAngle":-90,"domain":false,"ticks":false,"labelPadding":4}},
     "y2":{"datum":0}}},
   {"data":{"name":"fhl"},"mark":{"type":"line","color":"#2b2bb8","strokeWidth":1},
    "encoding":{"x":{"field":"x","type":"quantitative"},"y":{"field":"y","type":"quantitative"}}},
   {"data":{"values":[{"label":"C"}]},"mark":{"type":"text","color":"black","fontSize":21,"align":"left","baseline":"alphabetic"},
    "encoding":{"x":{"datum":-1.65,"type":"quantitative"},"y":{"datum":362,"type":"quantitative"},"text":{"field":"label"}}}
  ]},
 {"width":161,"height":77,
  "layer":[
   {"data":{"name":"chm"},"mark":{"type":"rect","color":"#ff1414","stroke":"#5a0000","strokeWidth":0.6},
    "encoding":{"x":{"field":"lo","type":"quantitative","scale":{"domain":[0,8],"nice":false},"axis":{"values":[0,2,4,6,8],"title":"Middle level duration (s)","titleFontSize":11,"titlePadding":0,"tickSize":2,"labelPadding":0}},
     "x2":{"field":"hi"},
     "y":{"field":"n","type":"quantitative","scale":{"domain":[0,375],"nice":false},"axis":{"values":[0,100,200,300],"title":"Occurrences","titleFontSize":11,"titleX":-27.5,"titleY":38,"titleBaseline":"middle","titleAngle":-90,"domain":false,"ticks":false,"labelPadding":4}},
     "y2":{"datum":0}}},
   {"data":{"name":"fhm"},"mark":{"type":"line","color":"#2b2bb8","strokeWidth":1},
    "encoding":{"x":{"field":"x","type":"quantitative"},"y":{"field":"y","type":"quantitative"}}}
  ]}
],"spacing":51,"bounds":"flush"}
],
"spacing":13.5
}
